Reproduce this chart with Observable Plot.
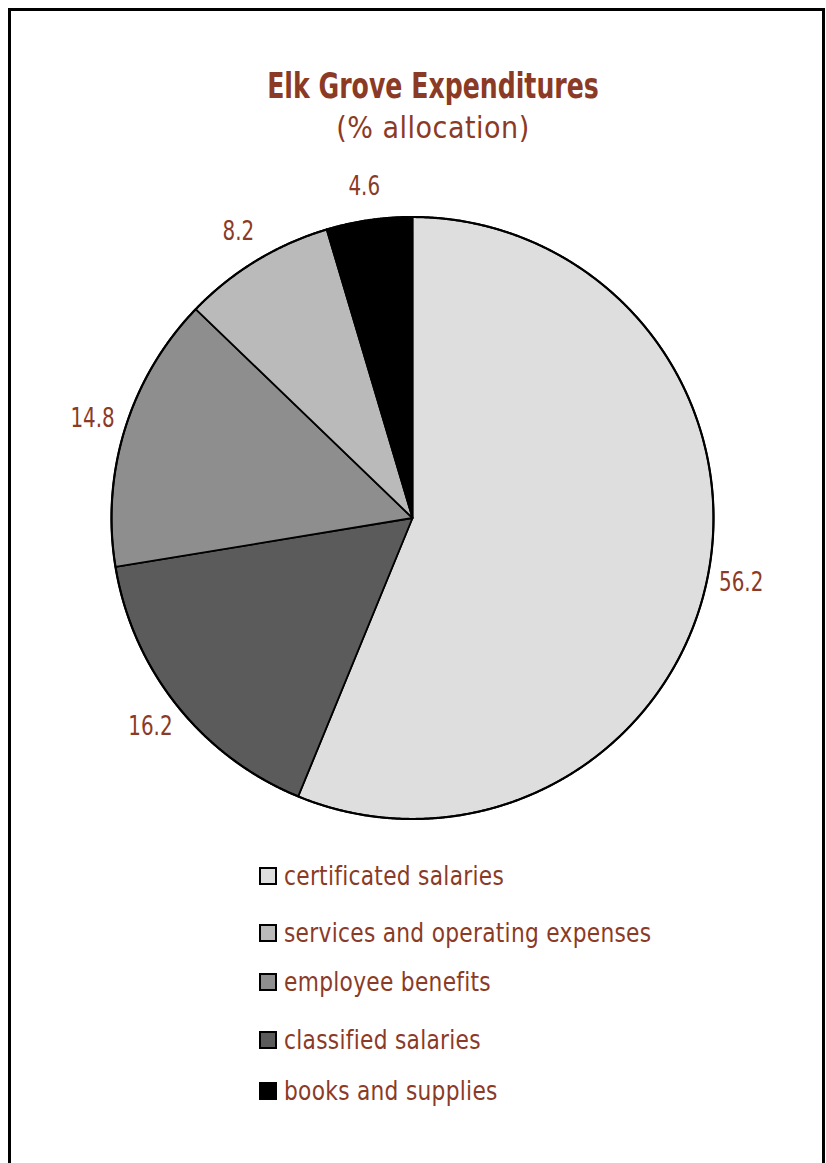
<!DOCTYPE html>
<html>
<head>
<meta charset="utf-8">
<script src="https://cdn.jsdelivr.net/npm/d3@7"></script>
<script src="https://cdn.jsdelivr.net/npm/@observablehq/plot@0.6"></script>
<style>
  html, body { margin: 0; padding: 0; background: #fff; width: 826px; height: 1163px; overflow: hidden; }
  body { position: relative; font-family: "Liberation Sans Narrow", "DejaVu Sans Condensed", "DejaVu Sans", sans-serif; font-stretch: condensed; color: #8b3a26; }
  #frame { position: absolute; left: 8px; top: 8px; width: 811px; height: 1250px; border: 3px solid #000; box-sizing: content-box; }
  .title { position: absolute; left: 0; width: 866px; text-align: center; white-space: nowrap; line-height: 1; }
  #t1 { top: 69px; font-size: 35px; font-weight: bold; transform: scaleX(0.8); }
  #t2 { top: 113px; font-size: 30px; letter-spacing: 0.5px; }
  #chart { position: absolute; left: 0; top: 150px; }
  .lrow { position: absolute; left: 259px; height: 30px; display: flex; align-items: center; white-space: nowrap; font-size: 26px; line-height: 30px; letter-spacing: 0.3px; }
  .lrow .tx { display: inline-block; transform: scaleX(0.93); transform-origin: 0 50%; }
  .sw { width: 14px; height: 14px; border: 2px solid #000; margin-right: 7px; box-sizing: content-box; }
</style>
</head>
<body>
<div id="frame"></div>
<div class="title" id="t1">Elk Grove Expenditures</div>
<div class="title" id="t2">(% allocation)</div>
<div id="chart"></div>
<div id="legend"></div>
<script>
// ---- data ----
const categories = ["certificated salaries", "classified salaries", "employee benefits", "services and operating expenses", "books and supplies"];
const values = [56.2, 16.2, 14.8, 8.2, 4.6];
const sliceColors = ["#dedede", "#5b5b5b", "#8e8e8e", "#bababa", "#000000"];
const legendOrder = ["certificated salaries", "services and operating expenses", "employee benefits", "classified salaries", "books and supplies"];
const valueLabels = ["56.2", "16.2", "14.8", "8.2", "4.6"];
const labelColor = "#8b3a26";
const fontStack = "'Liberation Sans Narrow', 'DejaVu Sans Condensed', 'DejaVu Sans', sans-serif";

const rows = categories.map((name, i) => ({name, value: values[i], label: valueLabels[i]}));
const arcs = d3.pie().sort(null).value(d => d.value)(rows);

// slice outlines (geometry of each arc in unit-radius coordinates)
const slicePts = [];
const step = Math.PI / 720;
for (const a of arcs) {
  slicePts.push({name: a.data.name, x: 0, y: 0});
  for (let t = a.startAngle; t < a.endAngle; t += step) {
    slicePts.push({name: a.data.name, x: Math.sin(t), y: Math.cos(t)});
  }
  slicePts.push({name: a.data.name, x: Math.sin(a.endAngle), y: Math.cos(a.endAngle)});
}
const rimPts = [];
for (let t = 0; t < 2 * Math.PI; t += step) rimPts.push({x: Math.sin(t), y: Math.cos(t)});

const labelR = 1.113;
const labelPts = arcs.map(a => {
  const m = (a.startAngle + a.endAngle) / 2;
  return {x: labelR * Math.sin(m), y: labelR * Math.cos(m), text: a.data.label};
});

const chart = Plot.plot({
  width: 826,
  height: 700,
  marginLeft: 111,
  marginRight: 113,
  marginTop: 66.5,
  marginBottom: 31.5,
  x: {domain: [-1, 1], axis: null},
  y: {domain: [-1, 1], axis: null},
  color: {domain: categories, range: sliceColors},
  style: {background: "transparent", overflow: "visible"},
  marks: [
    Plot.line(slicePts, {x: "x", y: "y", z: "name", fill: "name", stroke: "#000", strokeWidth: 1.8, strokeLinejoin: "round", curve: "linear-closed"}),
    Plot.line(rimPts, {x: "x", y: "y", stroke: "#000", strokeWidth: 2.2, curve: "linear-closed"}),
    Plot.text(labelPts, {x: "x", y: "y", text: "text", fill: labelColor, fontSize: 27, fontFamily: fontStack, className: "vlabel"})
  ]
});
// condense value labels horizontally (font narrower than available fonts)
chart.querySelectorAll(".vlabel text").forEach(t => {
  const tr = t.getAttribute("transform") || "";
  t.setAttribute("transform", tr + " scale(0.82,1)");
});
document.getElementById("chart").appendChild(chart);

// legend
const legendTops = [861, 918, 967, 1025, 1076];
const legend = document.getElementById("legend");
legendOrder.forEach((name, i) => {
  const row = document.createElement("div");
  row.className = "lrow";
  row.style.top = legendTops[i] + "px";
  const sw = document.createElement("span");
  sw.className = "sw";
  sw.style.background = sliceColors[categories.indexOf(name)];
  const tx = document.createElement("span");
  tx.className = "tx";
  tx.textContent = name;
  row.appendChild(sw);
  row.appendChild(tx);
  legend.appendChild(row);
});
</script>
</body>
</html>
